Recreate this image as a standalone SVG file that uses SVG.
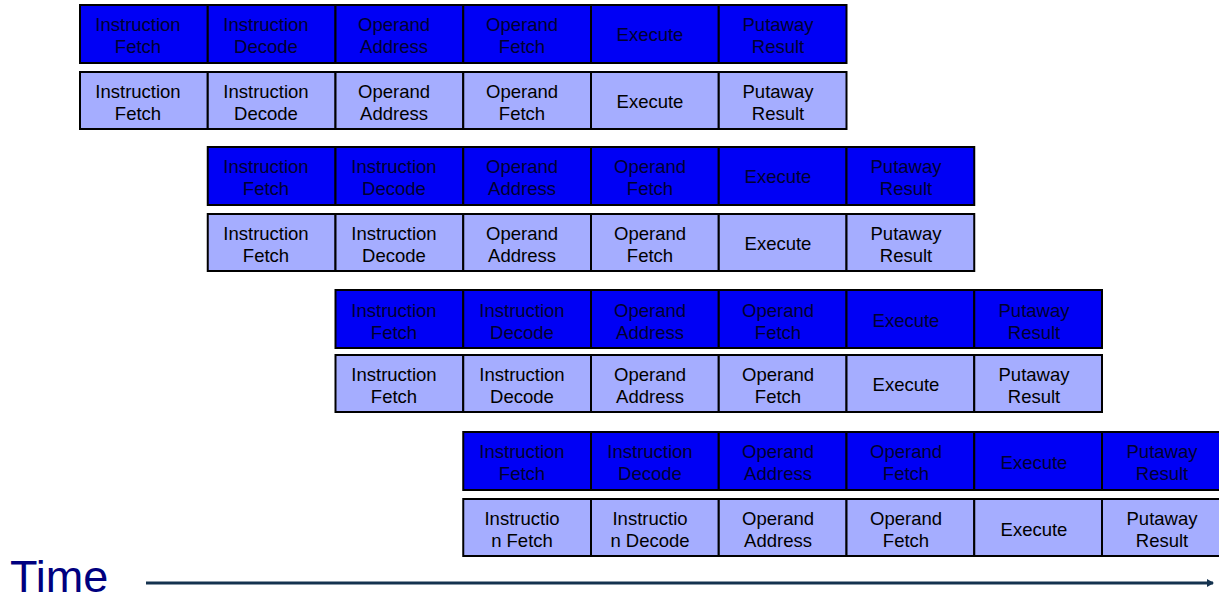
<svg xmlns="http://www.w3.org/2000/svg" width="1219" height="594" viewBox="0 0 1219 594">
<style>
.d{fill:#0000f5;stroke:#000;stroke-width:2}
.l{fill:#a5adff;stroke:#000;stroke-width:2}
text{font-family:"Liberation Sans",Arial,sans-serif;font-size:18.5px;text-anchor:middle}
.dt{fill:#000030}
.lt{fill:#000}
</style>
<defs>
<marker id="ah" markerWidth="8" markerHeight="8" refX="6" refY="4" orient="auto" markerUnits="userSpaceOnUse">
<path d="M0,0 L7,4 L0,8 z" fill="#14324f"/>
</marker>
</defs>
<g id="pipe1-dark">
<rect class="d" x="80" y="5" width="127.75" height="58"/><rect class="d" x="207.75" y="5" width="127.75" height="58"/><rect class="d" x="335.5" y="5" width="127.75" height="58"/><rect class="d" x="463.25" y="5" width="127.75" height="58"/><rect class="d" x="591" y="5" width="127.75" height="58"/><rect class="d" x="718.75" y="5" width="127.75" height="58"/>
<text class="dt" x="138" y="31">Instruction</text><text class="dt" x="138" y="53">Fetch</text>
<text class="dt" x="266" y="31">Instruction</text><text class="dt" x="266" y="53">Decode</text>
<text class="dt" x="394" y="31">Operand</text><text class="dt" x="394" y="53">Address</text>
<text class="dt" x="522" y="31">Operand</text><text class="dt" x="522" y="53">Fetch</text>
<text class="dt" x="650" y="41">Execute</text>
<text class="dt" x="778" y="31">Putaway</text><text class="dt" x="778" y="53">Result</text>
</g>
<g id="pipe1-light">
<rect class="l" x="80" y="72" width="127.75" height="57"/><rect class="l" x="207.75" y="72" width="127.75" height="57"/><rect class="l" x="335.5" y="72" width="127.75" height="57"/><rect class="l" x="463.25" y="72" width="127.75" height="57"/><rect class="l" x="591" y="72" width="127.75" height="57"/><rect class="l" x="718.75" y="72" width="127.75" height="57"/>
<text class="lt" x="138" y="98">Instruction</text><text class="lt" x="138" y="120">Fetch</text>
<text class="lt" x="266" y="98">Instruction</text><text class="lt" x="266" y="120">Decode</text>
<text class="lt" x="394" y="98">Operand</text><text class="lt" x="394" y="120">Address</text>
<text class="lt" x="522" y="98">Operand</text><text class="lt" x="522" y="120">Fetch</text>
<text class="lt" x="650" y="108">Execute</text>
<text class="lt" x="778" y="98">Putaway</text><text class="lt" x="778" y="120">Result</text>
</g>
<g id="pipe2-dark">
<rect class="d" x="207.75" y="147" width="127.75" height="58"/><rect class="d" x="335.5" y="147" width="127.75" height="58"/><rect class="d" x="463.25" y="147" width="127.75" height="58"/><rect class="d" x="591" y="147" width="127.75" height="58"/><rect class="d" x="718.75" y="147" width="127.75" height="58"/><rect class="d" x="846.5" y="147" width="127.75" height="58"/>
<text class="dt" x="266" y="173">Instruction</text><text class="dt" x="266" y="195">Fetch</text>
<text class="dt" x="394" y="173">Instruction</text><text class="dt" x="394" y="195">Decode</text>
<text class="dt" x="522" y="173">Operand</text><text class="dt" x="522" y="195">Address</text>
<text class="dt" x="650" y="173">Operand</text><text class="dt" x="650" y="195">Fetch</text>
<text class="dt" x="778" y="183">Execute</text>
<text class="dt" x="906" y="173">Putaway</text><text class="dt" x="906" y="195">Result</text>
</g>
<g id="pipe2-light">
<rect class="l" x="207.75" y="214" width="127.75" height="57"/><rect class="l" x="335.5" y="214" width="127.75" height="57"/><rect class="l" x="463.25" y="214" width="127.75" height="57"/><rect class="l" x="591" y="214" width="127.75" height="57"/><rect class="l" x="718.75" y="214" width="127.75" height="57"/><rect class="l" x="846.5" y="214" width="127.75" height="57"/>
<text class="lt" x="266" y="240">Instruction</text><text class="lt" x="266" y="262">Fetch</text>
<text class="lt" x="394" y="240">Instruction</text><text class="lt" x="394" y="262">Decode</text>
<text class="lt" x="522" y="240">Operand</text><text class="lt" x="522" y="262">Address</text>
<text class="lt" x="650" y="240">Operand</text><text class="lt" x="650" y="262">Fetch</text>
<text class="lt" x="778" y="250">Execute</text>
<text class="lt" x="906" y="240">Putaway</text><text class="lt" x="906" y="262">Result</text>
</g>
<g id="pipe3-dark">
<rect class="d" x="335.5" y="290" width="127.75" height="58"/><rect class="d" x="463.25" y="290" width="127.75" height="58"/><rect class="d" x="591" y="290" width="127.75" height="58"/><rect class="d" x="718.75" y="290" width="127.75" height="58"/><rect class="d" x="846.5" y="290" width="127.75" height="58"/><rect class="d" x="974.25" y="290" width="127.75" height="58"/>
<text class="dt" x="394" y="317">Instruction</text><text class="dt" x="394" y="339">Fetch</text>
<text class="dt" x="522" y="317">Instruction</text><text class="dt" x="522" y="339">Decode</text>
<text class="dt" x="650" y="317">Operand</text><text class="dt" x="650" y="339">Address</text>
<text class="dt" x="778" y="317">Operand</text><text class="dt" x="778" y="339">Fetch</text>
<text class="dt" x="906" y="327">Execute</text>
<text class="dt" x="1034" y="317">Putaway</text><text class="dt" x="1034" y="339">Result</text>
</g>
<g id="pipe3-light">
<rect class="l" x="335.5" y="355" width="127.75" height="57"/><rect class="l" x="463.25" y="355" width="127.75" height="57"/><rect class="l" x="591" y="355" width="127.75" height="57"/><rect class="l" x="718.75" y="355" width="127.75" height="57"/><rect class="l" x="846.5" y="355" width="127.75" height="57"/><rect class="l" x="974.25" y="355" width="127.75" height="57"/>
<text class="lt" x="394" y="381">Instruction</text><text class="lt" x="394" y="403">Fetch</text>
<text class="lt" x="522" y="381">Instruction</text><text class="lt" x="522" y="403">Decode</text>
<text class="lt" x="650" y="381">Operand</text><text class="lt" x="650" y="403">Address</text>
<text class="lt" x="778" y="381">Operand</text><text class="lt" x="778" y="403">Fetch</text>
<text class="lt" x="906" y="391">Execute</text>
<text class="lt" x="1034" y="381">Putaway</text><text class="lt" x="1034" y="403">Result</text>
</g>
<g id="pipe4-dark">
<rect class="d" x="463.25" y="432" width="127.75" height="58"/><rect class="d" x="591" y="432" width="127.75" height="58"/><rect class="d" x="718.75" y="432" width="127.75" height="58"/><rect class="d" x="846.5" y="432" width="127.75" height="58"/><rect class="d" x="974.25" y="432" width="127.75" height="58"/><rect class="d" x="1102" y="432" width="127.75" height="58"/>
<text class="dt" x="522" y="458">Instruction</text><text class="dt" x="522" y="480">Fetch</text>
<text class="dt" x="650" y="458">Instruction</text><text class="dt" x="650" y="480">Decode</text>
<text class="dt" x="778" y="458">Operand</text><text class="dt" x="778" y="480">Address</text>
<text class="dt" x="906" y="458">Operand</text><text class="dt" x="906" y="480">Fetch</text>
<text class="dt" x="1034" y="469">Execute</text>
<text class="dt" x="1162" y="458">Putaway</text><text class="dt" x="1162" y="480">Result</text>
</g>
<g id="pipe4-light">
<rect class="l" x="463.25" y="499" width="127.75" height="57"/><rect class="l" x="591" y="499" width="127.75" height="57"/><rect class="l" x="718.75" y="499" width="127.75" height="57"/><rect class="l" x="846.5" y="499" width="127.75" height="57"/><rect class="l" x="974.25" y="499" width="127.75" height="57"/><rect class="l" x="1102" y="499" width="127.75" height="57"/>
<text class="lt" x="522" y="525">Instructio</text><text class="lt" x="522" y="547">n Fetch</text>
<text class="lt" x="650" y="525">Instructio</text><text class="lt" x="650" y="547">n Decode</text>
<text class="lt" x="778" y="525">Operand</text><text class="lt" x="778" y="547">Address</text>
<text class="lt" x="906" y="525">Operand</text><text class="lt" x="906" y="547">Fetch</text>
<text class="lt" x="1034" y="536">Execute</text>
<text class="lt" x="1162" y="525">Putaway</text><text class="lt" x="1162" y="547">Result</text>
</g>
<g id="connectors">
<line x1="146" y1="583" x2="1213" y2="583" stroke="#14324f" stroke-width="3" marker-end="url(#ah)"/>
</g>
<g id="time-label">
<text x="10" y="592" style="font-size:45px;text-anchor:start;fill:#00007f">Time</text>
</g>
</svg>
